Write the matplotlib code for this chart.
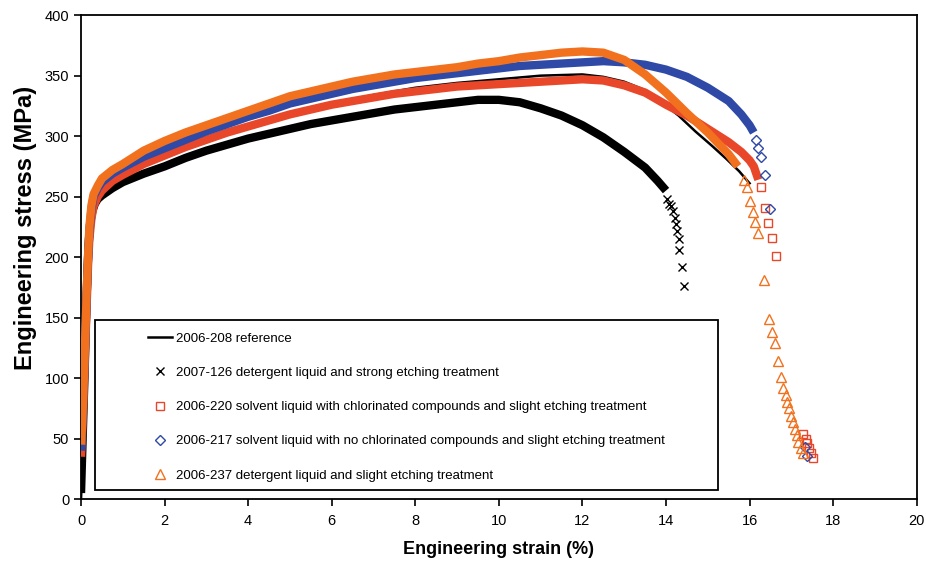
import matplotlib.pyplot as plt
from matplotlib.patches import Rectangle

plt.rcParams['font.family'] = ['Liberation Sans', 'DejaVu Sans']

# 2006-208 reference (solid line)
ref_strain = [0, 0.05, 0.1, 0.15, 0.2, 0.25, 0.3, 0.4, 0.5, 0.75, 1, 1.5, 2, 3, 4, 5, 6, 7, 8, 9,
              10, 11, 12, 12.5, 13, 13.5, 13.9, 14.3, 14.7, 15.1, 15.45, 15.75, 16.0]
ref_stress = [0, 45, 100, 155, 200, 228, 238, 248, 254, 262, 267, 276, 284, 297, 308, 318, 327, 334, 340, 344,
              347, 350, 351, 349, 345, 338, 328, 317, 304, 292, 281, 271, 261]

# 2007-126 detergent liquid and strong etching treatment (x)
s126_strain = [0.0, 0.03, 0.06, 0.09, 0.12, 0.15, 0.18, 0.22, 0.27, 0.33, 0.4, 0.5, 0.75, 1, 1.5, 2, 2.5, 3,
               3.5, 4, 4.5, 5, 5.5, 6, 6.5, 7, 7.5, 8, 8.5, 9, 9.5, 10, 10.5, 11, 11.5, 12, 12.5, 13, 13.5,
               13.8, 14.0]
s126_stress = [5, 40, 75, 110, 150, 185, 210, 228, 238, 244, 248, 251, 257, 262, 269, 275, 282, 288,
               293, 298, 302, 306, 310, 313, 316, 319, 322, 324, 326, 328, 330, 330, 328, 323, 317, 309, 299,
               287, 274, 263, 255]
s126_tail_strain = [14.03, 14.08, 14.12, 14.16, 14.22, 14.24, 14.27, 14.3, 14.32, 14.38, 14.44]
s126_tail_stress = [248, 244, 242, 238, 232, 227, 222, 215, 206, 192, 176]

# 2006-220 solvent liquid with chlorinated compounds (squares)
s220_strain = [0.0, 0.02, 0.05, 0.08, 0.11, 0.14, 0.17, 0.2, 0.25, 0.3, 0.4, 0.5, 0.75, 1, 1.5, 2, 2.5, 3,
               3.5, 4, 4.5, 5, 5.5, 6, 6.5, 7, 7.5, 8, 8.5, 9, 9.5, 10, 10.5, 11, 11.5, 12, 12.5, 13, 13.5,
               14, 14.5, 15, 15.5, 15.8, 16.0, 16.1, 16.21]
s220_stress = [35, 50, 75, 105, 135, 165, 195, 215, 232, 242, 250, 255, 263, 268, 277, 284, 291, 297,
               303, 308, 313, 318, 322, 326, 329, 332, 335, 337, 339, 341, 342, 343, 344, 345, 346, 347, 346,
               342, 336, 326, 317, 306, 295, 287, 280, 275, 264]
s220_tail_strain = [16.27, 16.37, 16.45, 16.53, 16.62, 17.28, 17.35, 17.38, 17.43, 17.48, 17.52]
s220_tail_stress = [258, 241, 228, 216, 201, 54, 50, 46, 42, 38, 34]

# 2006-217 solvent liquid with no chlorinated compounds (diamonds)
s217_strain = [0.0, 0.02, 0.05, 0.08, 0.11, 0.14, 0.17, 0.2, 0.25, 0.3, 0.4, 0.5, 0.75, 1, 1.5, 2, 2.5, 3,
               3.5, 4, 4.5, 5, 5.5, 6, 6.5, 7, 7.5, 8, 8.5, 9, 9.5, 10, 10.5, 11, 11.5, 12, 12.5, 13, 13.5,
               14, 14.5, 15, 15.5, 15.8, 16.0, 16.1]
s217_stress = [40, 55, 80, 110, 140, 172, 200, 222, 240, 250, 257, 262, 269, 274, 283, 290, 297, 304,
               310, 316, 321, 327, 331, 335, 339, 342, 345, 348, 350, 352, 354, 356, 358, 359, 360, 361, 362,
               361, 359, 355, 349, 340, 329, 318, 309, 303]
s217_tail_strain = [16.15, 16.21, 16.27, 16.37, 16.5, 17.32, 17.37]
s217_tail_stress = [297, 290, 283, 268, 240, 43, 36]

# 2006-237 detergent liquid and slight etching treatment (triangles)
s237_strain = [0.0, 0.02, 0.05, 0.08, 0.11, 0.14, 0.17, 0.2, 0.25, 0.3, 0.4, 0.5, 0.75, 1, 1.5, 2, 2.5, 3,
               3.5, 4, 4.5, 5, 5.5, 6, 6.5, 7, 7.5, 8, 8.5, 9, 9.5, 10, 10.5, 11, 11.5, 12, 12.5, 13, 13.5,
               14, 14.5, 15, 15.5, 15.72]
s237_stress = [45, 58, 82, 112, 143, 175, 203, 225, 243, 252, 259, 265, 272, 277, 288, 296, 303, 309,
               315, 321, 327, 333, 337, 341, 345, 348, 351, 353, 355, 357, 360, 362, 365, 367, 369, 370, 369,
               363, 351, 336, 319, 303, 285, 275]
s237_tail_strain = [15.86, 15.93, 16.0, 16.08, 16.12, 16.2, 16.35, 16.47, 16.54, 16.6, 16.68, 16.75, 16.8,
                    16.86, 16.9, 16.94, 16.99, 17.03, 17.08, 17.13, 17.17, 17.22, 17.27]
s237_tail_stress = [264, 258, 246, 237, 229, 220, 181, 149, 138, 129, 114, 101, 92,
                    86, 80, 75, 69, 64, 58, 53, 47, 42, 38]

labels = ['2006-208 reference',
          '2007-126 detergent liquid and strong etching treatment',
          '2006-220 solvent liquid with chlorinated compounds and slight etching treatment',
          '2006-217 solvent liquid with no chlorinated compounds and slight etching treatment',
          '2006-237 detergent liquid and slight etching treatment']

c_red = '#E8472A'
c_blue = '#2E49A6'
c_orange = '#F2711F'

fig = plt.figure(figsize=(9.26, 5.62), dpi=100)
ax = fig.add_axes([0.0875, 0.112, 0.9025, 0.861])

h_ref, = ax.plot(ref_strain, ref_stress, color='black', lw=1.8, zorder=2)

# dense measurement points look like a solid band, tails are single points
band = dict(lw=6, solid_capstyle='butt', solid_joinstyle='round')
ax.plot(s126_strain, s126_stress, color='black', zorder=2, **band)
h126, = ax.plot(s126_tail_strain, s126_tail_stress, ls='none', marker='x',
                ms=6, mew=1.0, color='black', zorder=2)

ax.plot(s220_strain, s220_stress, color=c_red, zorder=3, **band)
h220, = ax.plot(s220_tail_strain, s220_tail_stress, ls='none', marker='s',
                ms=6, mew=1.0, mfc='none', mec=c_red, zorder=3)

ax.plot(s217_strain, s217_stress, color=c_blue, zorder=4, **band)
h217, = ax.plot(s217_tail_strain, s217_tail_stress, ls='none', marker='D',
                ms=5, mew=1.0, mfc='none', mec=c_blue, zorder=4)

ax.plot(s237_strain, s237_stress, color=c_orange, zorder=5, **band)
h237, = ax.plot(s237_tail_strain, s237_tail_stress, ls='none', marker='^',
                ms=6.5, mew=1.0, mfc='none', mec=c_orange, zorder=5)

ax.set_xlim(0, 20)
ax.set_ylim(0, 400)
ax.set_xticks(range(0, 21, 2))
ax.set_yticks(range(0, 401, 50))
ax.tick_params(direction='out', length=5, width=1.2, labelsize=10.5, top=False, right=False)
ax.tick_params(axis='x', pad=6)
for sp in ax.spines.values():
    sp.set_linewidth(1.3)
ax.set_xlabel('Engineering strain (%)', fontsize=13, fontweight='bold', labelpad=9)
ax.set_ylabel('Engineering stress (MPa)', fontsize=17, fontweight='bold')
ax.yaxis.set_label_coords(-0.053, 0.56)

# legend frame drawn as its own box
ax.add_patch(Rectangle((0.0167, 0.0186), 0.746, 0.352, transform=ax.transAxes, facecolor='white',
                       edgecolor='black', lw=1.3, zorder=6))
leg = ax.legend([h_ref, h126, h220, h217, h237], labels, loc='upper left', bbox_to_anchor=(0.066, 0.369),
                frameon=False, fontsize=9.5, labelspacing=1.67, handlelength=1.8, handletextpad=0.3)
leg.set_zorder(7)

plt.savefig('out.png', dpi=100)
